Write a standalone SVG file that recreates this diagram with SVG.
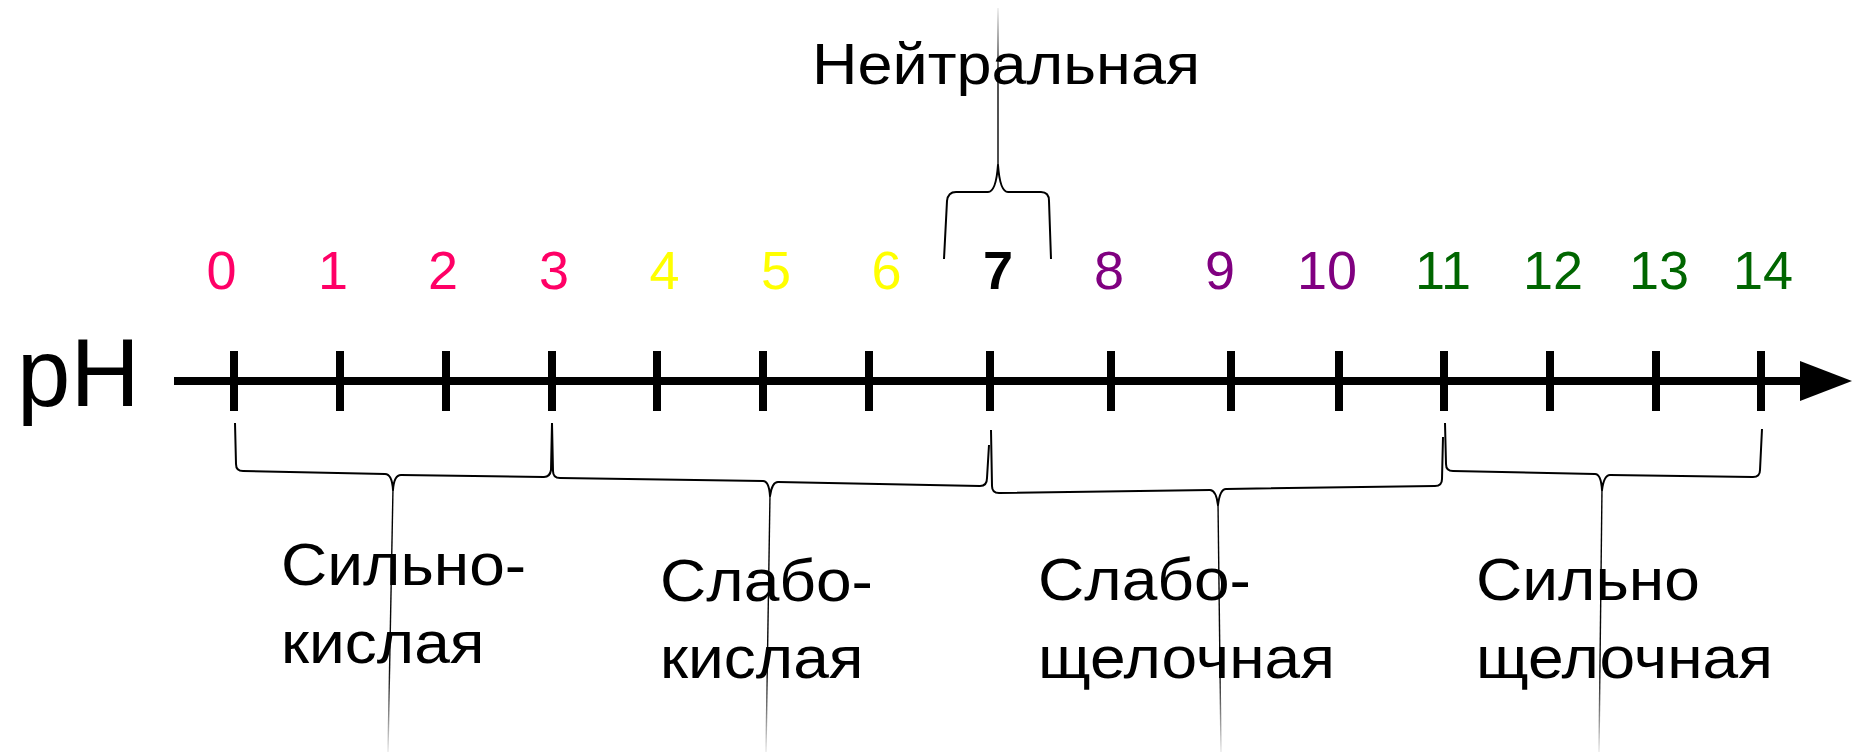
<svg xmlns="http://www.w3.org/2000/svg" width="1861" height="753" viewBox="0 0 1861 753">
  <style>
    text { font-family: "Liberation Sans", Arial, sans-serif; }
    .num { font-size: 54px; text-anchor: middle; }
    .acid { fill: #ff0066; }
    .weak-acid { fill: #ffff00; }
    .neutral { fill: #000000; font-weight: bold; }
    .weak-base { fill: #800080; }
    .base { fill: #006600; }
    .label { font-size: 60px; fill: #000000; }
    .tick { stroke: #000; stroke-width: 8; }
    .brace { fill: none; stroke: #000; stroke-width: 2; stroke-linejoin: round; }
    .stem-down { fill: none; stroke: url(#fadeDown); stroke-width: 1.4; }
    .stem-up { fill: none; stroke: url(#fadeUp); stroke-width: 1.4; }
  </style>
  <defs>
    <marker id="arrow" viewBox="0 0 52 40" refX="0" refY="20" markerWidth="52" markerHeight="40" markerUnits="userSpaceOnUse" orient="auto">
      <path d="M0,0 L52,20 L0,40 Z" fill="#000"/>
    </marker>
    <linearGradient id="fadeDown" gradientUnits="userSpaceOnUse" x1="0" y1="480" x2="0" y2="752">
      <stop offset="0" stop-color="#000" stop-opacity="1"/>
      <stop offset="0.7" stop-color="#000" stop-opacity="0.95"/>
      <stop offset="1" stop-color="#000" stop-opacity="0.08"/>
    </linearGradient>
    <linearGradient id="fadeUp" gradientUnits="userSpaceOnUse" x1="0" y1="166" x2="0" y2="8">
      <stop offset="0" stop-color="#000" stop-opacity="1"/>
      <stop offset="0.6" stop-color="#000" stop-opacity="0.95"/>
      <stop offset="1" stop-color="#000" stop-opacity="0.08"/>
    </linearGradient>
  </defs>
  <rect width="1861" height="753" fill="#ffffff"/>

  <!-- pH axis with arrow -->
  <g id="axis">
    <text x="17" y="406" style="font-size:96px">pH</text>
    <line x1="174" y1="381" x2="1800" y2="381" stroke="#000" stroke-width="8" marker-end="url(#arrow)"/>
    <g id="ticks">
      <line class="tick" x1="234" y1="351" x2="234" y2="411"/>
      <line class="tick" x1="340" y1="351" x2="340" y2="411"/>
      <line class="tick" x1="446" y1="351" x2="446" y2="411"/>
      <line class="tick" x1="552" y1="351" x2="552" y2="411"/>
      <line class="tick" x1="657" y1="351" x2="657" y2="411"/>
      <line class="tick" x1="763" y1="351" x2="763" y2="411"/>
      <line class="tick" x1="869" y1="351" x2="869" y2="411"/>
      <line class="tick" x1="990" y1="351" x2="990" y2="411"/>
      <line class="tick" x1="1111" y1="351" x2="1111" y2="411"/>
      <line class="tick" x1="1231" y1="351" x2="1231" y2="411"/>
      <line class="tick" x1="1339" y1="351" x2="1339" y2="411"/>
      <line class="tick" x1="1444" y1="351" x2="1444" y2="411"/>
      <line class="tick" x1="1550" y1="351" x2="1550" y2="411"/>
      <line class="tick" x1="1656" y1="351" x2="1656" y2="411"/>
      <line class="tick" x1="1761" y1="351" x2="1761" y2="411"/>
    </g>
  </g>

  <!-- scale values -->
  <g id="scale-values">
    <text class="num acid" x="221.5" y="289">0</text>
    <text class="num acid" x="333" y="289">1</text>
    <text class="num acid" x="443" y="289">2</text>
    <text class="num acid" x="554" y="289">3</text>
    <text class="num weak-acid" x="664.5" y="289">4</text>
    <text class="num weak-acid" x="776" y="289">5</text>
    <text class="num weak-acid" x="886.5" y="289">6</text>
    <text class="num neutral" x="998" y="289">7</text>
    <text class="num weak-base" x="1109" y="289">8</text>
    <text class="num weak-base" x="1220" y="289">9</text>
    <text class="num weak-base" x="1327" y="289">10</text>
    <text class="num base" x="1443" y="289">11</text>
    <text class="num base" x="1553" y="289">12</text>
    <text class="num base" x="1659" y="289">13</text>
    <text class="num base" x="1763" y="289">14</text>
  </g>

  <!-- region names (slightly widened lettering) -->
  <g id="node-neutral">
    <text class="label" transform="translate(812 84) scale(1.086 1)" style="font-size:58px">Нейтральная</text>
  </g>
  <g id="node-strong-acid">
    <text class="label" transform="translate(281 585) scale(1.068 1)">Сильно-</text>
    <text class="label" transform="translate(281 663) scale(1.068 1)">кислая</text>
  </g>
  <g id="node-weak-acid">
    <text class="label" transform="translate(660 601) scale(1.068 1)">Слабо-</text>
    <text class="label" transform="translate(660 678) scale(1.068 1)">кислая</text>
  </g>
  <g id="node-weak-base">
    <text class="label" transform="translate(1038 600) scale(1.068 1)">Слабо-</text>
    <text class="label" transform="translate(1038 678) scale(1.068 1)">щелочная</text>
  </g>
  <g id="node-strong-base">
    <text class="label" transform="translate(1476 600) scale(1.068 1)">Сильно</text>
    <text class="label" transform="translate(1476 678) scale(1.068 1)">щелочная</text>
  </g>

  <!-- braces grouping the scale ranges, with leader stems to the names -->
  <g id="connectors">
    <!-- pH 7 -->
    <path class="brace" d="M944,259 L947,201 Q948,192 956,192 L988,192 Q996,192 998,165 Q1000,192 1008,192 L1041,192 Q1049,192 1049,201 L1051,259"/>
    <path class="stem-up" d="M998,166 L998,8"/>
    <!-- pH 0-3 -->
    <path class="brace" d="M235,423 L236,464 Q236,471 243,471 L385,474 Q392,474 393,490 Q394,475 401,475 L544,477 Q550,477 551,470 L552,423"/>
    <path class="stem-down" d="M393,488 L388,752"/>
    <!-- pH 3-7 -->
    <path class="brace" d="M552,423 L553,471 Q553,478 560,478 L763,481 Q769,481 770,496 Q772,482 778,482 L980,486 Q987,486 987,478 L989,445"/>
    <path class="stem-down" d="M770,494 L766,752"/>
    <!-- pH 7-11 -->
    <path class="brace" d="M991,430 L992,486 Q992,493 999,493 L1210,490 Q1216,490 1218,505 Q1220,489 1226,489 L1435,486 Q1442,486 1442,479 L1443,437"/>
    <path class="stem-down" d="M1218,503 L1221,752"/>
    <!-- pH 11-14 -->
    <path class="brace" d="M1445,423 L1446,464 Q1446,471 1453,471 L1595,474 Q1601,474 1602,490 Q1604,475 1610,475 L1753,477 Q1760,477 1760,470 L1762,429"/>
    <path class="stem-down" d="M1602,488 L1599,752"/>
  </g>
</svg>
